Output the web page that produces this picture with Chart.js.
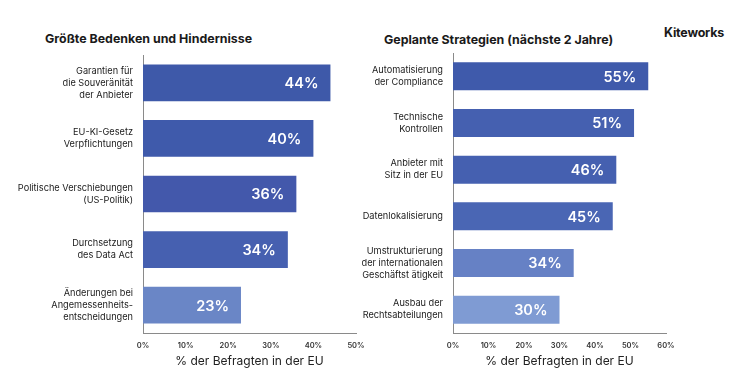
<!DOCTYPE html>
<html><head><meta charset="utf-8">
<script src="https://cdn.jsdelivr.net/npm/chart.js@4"></script>
<style>
html,body{margin:0;padding:0;background:#fff;width:750px;height:381px;overflow:hidden;font-family:Inter,"Open Sans",sans-serif;}
.t{position:absolute;font-weight:700;color:#1a1a1a;white-space:nowrap;}
.box{position:absolute;}
</style></head><body>
<div class="t" style="left:45px;top:31px;font-size:12.4px;">Größte Bedenken und Hindernisse</div>
<div class="t" style="left:384px;top:32px;font-size:12.4px;">Geplante Strategien (nächste 2 Jahre)</div>
<div class="t" style="left:664px;top:25px;font-size:12.5px;letter-spacing:-0.2px;">Kiteworks</div>
<div class="box" style="left:0;top:50px;width:375px;height:331px;"><canvas id="c1"></canvas></div>
<div class="box" style="left:340px;top:48px;width:410px;height:333px;"><canvas id="c2"></canvas></div>
<script>
const leftCategories = [
  ["Garantien für","die Souveränität","der Anbieter"],
  ["EU-KI-Gesetz","Verpflichtungen"],
  ["Politische Verschiebungen","(US-Politik)"],
  ["Durchsetzung","des Data Act"],
  ["Änderungen bei","Angemessenheits-","entscheidungen"]
];
const leftValues = [44, 40, 36, 34, 23];
const leftColors = ['#3e59a9','#3f5aab','#4358ab','#4660b0','#6a86c6'];

const rightCategories = [
  ["Automatisierung","der Compliance"],
  ["Technische","Kontrollen"],
  ["Anbieter mit","Sitz in der EU"],
  ["Datenlokalisierung"],
  ["Umstrukturierung","der internationalen","Geschäftst ätigkeit"],
  ["Ausbau der","Rechtsabteilungen"]
];
const rightValues = [55, 51, 46, 45, 34, 30];
const rightColors = ['#3f5aab','#4560b0','#4560b0','#4a66b4','#6681c5','#7f9bd3'];

const leftTicks = [0,10,20,30,40,50];
const rightTicks = [0,10,20,30,40,50,60];
const axisTitle = "% der Befragten in der EU";
const FONT = 'Inter, "Open Sans", sans-serif';

const valueLabels = {
  id:'valueLabels',
  afterDatasetsDraw(chart){
    const ctx = chart.ctx;
    const meta = chart.getDatasetMeta(0);
    ctx.save();
    ctx.font = '600 14.5px ' + FONT;
    ctx.fillStyle = '#fff';
    ctx.textAlign = 'right';
    ctx.textBaseline = 'middle';
    meta.data.forEach((el,i)=>{
      ctx.fillText(chart.data.datasets[0].data[i] + '%', el.x - 12, el.y + 1);
    });
    ctx.restore();
  }
};

function make(id, cats, vals, colors, maxV, tickList, bp, yWidth, padRight){
  return new Chart(document.getElementById(id), {
    type:'bar',
    data:{labels:cats, datasets:[{data:vals, backgroundColor:colors, barPercentage:bp, categoryPercentage:1}]},
    options:{
      indexAxis:'y', responsive:true, maintainAspectRatio:false, animation:false,
      layout:{padding:{top:5,right:padRight,bottom:0,left:0}},
      plugins:{legend:{display:false}, tooltip:{enabled:false}},
      scales:{
        x:{min:0,max:maxV,
           afterBuildTicks(s){ s.ticks = tickList.map(v=>({value:v})); },
           grid:{display:false, drawTicks:false},
           border:{display:true,color:'#8a8a8a',width:1},
           ticks:{padding:8, color:'#333', font:{family:FONT,size:7.5,weight:'600'}, callback:v=>v+'%', maxRotation:0},
           title:{display:true,text:axisTitle,color:'#222',font:{family:FONT,size:12,weight:'400'},padding:{top:4,bottom:12}},
           afterFit(s){ s.height = 48; s.paddingLeft = 0; s.paddingRight = 0; }
        },
        y:{grid:{display:false, drawTicks:false},
           border:{display:true,color:'#8a8a8a',width:1},
           ticks:{padding:10, color:'#1a1a1a', font:{family:FONT,size:9.2,weight:'400',lineHeight:1.3}},
           afterFit(s){ s.width = yWidth; s.paddingTop = 0; s.paddingBottom = 0; }
        }
      }
    },
    plugins:[valueLabels]
  });
}
make('c1', leftCategories, leftValues, leftColors, 50, leftTicks, 0.66, 143, 19);
make('c2', rightCategories, rightValues, rightColors, 60, rightTicks, 0.6, 113, 84);
</script>
</body></html>
